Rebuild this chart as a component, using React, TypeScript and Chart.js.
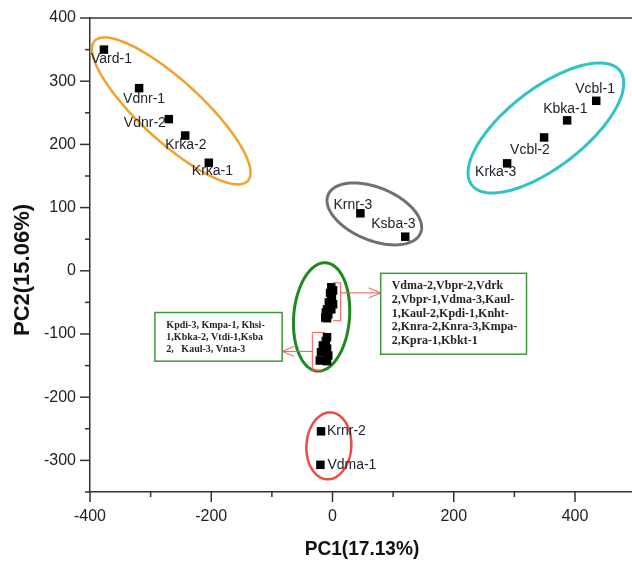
import React, { useEffect, useRef } from 'react';
import { Chart, registerables } from 'chart.js';

Chart.register(...registerables);

// ---------- data ----------
const orangeNames = ['Vard-1', 'Vdnr-1', 'Vdnr-2', 'Krka-2', 'Krka-1'];
const orangeX = [-377, -319, -270, -243, -204];
const orangeY = [350, 289, 240, 214, 171];

const cyanNames = ['Vcbl-1', 'Kbka-1', 'Vcbl-2', 'Krka-3'];
const cyanX = [435, 387, 349, 288];
const cyanY = [269, 238, 211, 170];

const grayNames = ['Krnr-3', 'Ksba-3'];
const grayX = [46, 120];
const grayY = [91, 54];

const redNames = ['Krnr-2', 'Vdma-1'];
const redX = [-19, -20];
const redY = [-254, -307];

const upperNames = ['Vdma-2', 'Vbpr-2', 'Vdrk-2', 'Vbpr-1', 'Vdma-3', 'Kaul-1', 'Kaul-2', 'Kpdi-1', 'Knht-2', 'Knra-2', 'Knra-3', 'Kmpa-2', 'Kpra-1', 'Kbkt-1'];
const upperX = [-2, 1, -4, -1, -2, -6, 1, -4, -9, -2, -11, -7, -12, -9];
const upperY = [-26, -31, -35, -40, -45, -50, -53, -56, -61, -61, -66, -69, -74, -75];

const lowerNames = ['Kpdi-3', 'Kmpa-1', 'Khsi-1', 'Kbka-2', 'Vtdi-1', 'Ksba-2', 'Kaul-3', 'Vnta-3'];
const lowerX = [-9, -11, -16, -9, -19, -7, -21, -9];
const lowerY = [-105, -111, -118, -123, -129, -134, -142, -143];

const rightBoxLines = ['Vdma-2,Vbpr-2,Vdrk', '2,Vbpr-1,Vdma-3,Kaul-', '1,Kaul-2,Kpdi-1,Knht-', '2,Knra-2,Knra-3,Kmpa-', '2,Kpra-1,Kbkt-1'];
const leftBoxLines = ['Kpdi-3, Kmpa-1, Khsi-', '1,Kbka-2, Vtdi-1,Ksba', '2,   Kaul-3, Vnta-3'];

const xTickValues = [-400, -300, -200, -100, 0, 100, 200, 300, 400];
const xTickLabels = [-400, -200, 0, 200, 400];
const yTickValues = [-350, -300, -250, -200, -150, -100, -50, 0, 50, 100, 150, 200, 250, 300, 350, 400];
const yTickLabels = [-300, -200, -100, 0, 100, 200, 300, 400];

const xTitle = 'PC1(17.13%)';
const yTitle = 'PC2(15.06%)';

// ---------- layout / style (not data) ----------
const X_MIN = -400;
const X_MAX = 494;
const Y_MIN = -350;
const Y_MAX = 400;

// label offsets in pixels: [dx to text left, dy to text middle]
const orangeOff = [[-13, 10], [-16, 11], [-45, 4], [-20, 10], [-17, 8]];
const cyanOff = [[-21, -12], [-24, -11], [-34, 13], [-32, 9]];
const grayOff = [[-27, -8], [-34, -13]];
const redOff = [[6, 0], [7, 0]];

// ellipses in data units
const ellipses = [
  { cx: -266, cy: 253, a: 168, b: 49, angle: -41, color: '#f5a02a', width: 2.5 },
  { cx: 352, cy: 226, a: 152, b: 63, angle: 36, color: '#2ec3c6', width: 3 },
  { cx: 69, cy: 90, a: 82, b: 42, angle: -21, color: '#707070', width: 3 },
  { cx: -6, cy: -277, a: 53, b: 37, angle: 86, color: '#ee4a44', width: 2.5 },
  { cx: -18, cy: -73, a: 86, b: 46, angle: 85, color: '#1d8a1d', width: 3 },
];

// annotation boxes in data units
const rightBox = { x0: 79.5, x1: 320, y0: -4, y1: -132 };
const leftBox = { x0: -293, x1: -83, y0: -66, y1: -143 };
// brackets / arrows in data units
const upperBracket = { x: 13.5, xIn: 0.8, yTop: -19, yBot: -79, yArrow: -35, xTip: 79.5 };
const lowerBracket = { x: -33.3, xInTop: -12.4, xInBot: -17.3, yTop: -97.5, yBot: -157.6, yArrow: -127.5, xTip: -83 };

function mk(names: string[], xs: number[], ys: number[]) {
  return names.map((n, i) => ({ x: xs[i], y: ys[i], name: n }));
}

const groups = [
  { data: mk(orangeNames, orangeX, orangeY), off: orangeOff },
  { data: mk(cyanNames, cyanX, cyanY), off: cyanOff },
  { data: mk(grayNames, grayX, grayY), off: grayOff },
  { data: mk(redNames, redX, redY), off: redOff },
  { data: mk(upperNames, upperX, upperY), off: null },
  { data: mk(lowerNames, lowerX, lowerY), off: null },
];

const AXIS = '#333333';
const RED = '#f0564e';
const GREEN_BOX = '#3a9a3a';

const overlayPlugin = {
  id: 'overlay',
  beforeDatasetsDraw(chart: any) {
    const { ctx } = chart;
    const xs = chart.scales.x;
    const ys = chart.scales.y;
    ellipses.forEach((e) => {
      ctx.save();
      ctx.beginPath();
      const th = (e.angle * Math.PI) / 180;
      const N = 160;
      for (let i = 0; i <= N; i++) {
        const t = (i / N) * Math.PI * 2;
        const dx = e.a * Math.cos(t) * Math.cos(th) - e.b * Math.sin(t) * Math.sin(th);
        const dy = e.a * Math.cos(t) * Math.sin(th) + e.b * Math.sin(t) * Math.cos(th);
        const px = xs.getPixelForValue(e.cx + dx);
        const py = ys.getPixelForValue(e.cy + dy);
        if (i === 0) ctx.moveTo(px, py);
        else ctx.lineTo(px, py);
      }
      ctx.closePath();
      ctx.strokeStyle = e.color;
      ctx.lineWidth = e.width;
      ctx.stroke();
      ctx.restore();
    });
    ctx.save();
    ctx.font = '14px "Liberation Sans", Arial, sans-serif';
    ctx.fillStyle = '#222230';
    ctx.textAlign = 'left';
    ctx.textBaseline = 'middle';
    groups.forEach((g) => {
      if (!g.off) return;
      g.data.forEach((p, i) => {
        const px = xs.getPixelForValue(p.x);
        const py = ys.getPixelForValue(p.y);
        ctx.fillText(p.name, px + g.off![i][0], py + g.off![i][1]);
      });
    });
    ctx.restore();
  },
  afterDraw(chart: any) {
    const { ctx, chartArea } = chart;
    const xs = chart.scales.x;
    const ys = chart.scales.y;
    ctx.save();
    ctx.strokeStyle = AXIS;
    ctx.lineWidth = 1.5;
    ctx.beginPath();
    ctx.moveTo(chartArea.left, chartArea.top);
    ctx.lineTo(chartArea.right, chartArea.top);
    ctx.stroke();
    xTickValues.forEach((v) => {
      const px = xs.getPixelForValue(v);
      const len = xTickLabels.includes(v) ? 10 : 5;
      ctx.beginPath();
      ctx.moveTo(px, chartArea.bottom);
      ctx.lineTo(px, chartArea.bottom + len);
      ctx.stroke();
    });
    yTickValues.forEach((v) => {
      const py = ys.getPixelForValue(v);
      const len = yTickLabels.includes(v) ? 10 : 5;
      ctx.beginPath();
      ctx.moveTo(chartArea.left, py);
      ctx.lineTo(chartArea.left - len, py);
      ctx.stroke();
    });
    ctx.fillStyle = '#111111';
    ctx.textAlign = 'center';
    ctx.textBaseline = 'middle';
    ctx.save();
    ctx.translate(362, 549);
    ctx.scale(0.91, 1);
    ctx.font = 'bold 21px "Liberation Sans", Arial, sans-serif';
    ctx.fillText(xTitle, 0, 0);
    ctx.restore();
    ctx.save();
    ctx.translate(23, 270);
    ctx.rotate(-Math.PI / 2);
    ctx.font = 'bold 22px "Liberation Sans", Arial, sans-serif';
    ctx.fillText(yTitle, 0, 0);
    ctx.restore();

    ctx.strokeStyle = RED;
    ctx.lineWidth = 1;
    const drawArrowHead = (tipX: number, tipY: number, dir: number) => {
      ctx.beginPath();
      ctx.moveTo(tipX - dir * 12, tipY - 5);
      ctx.lineTo(tipX, tipY);
      ctx.lineTo(tipX - dir * 12, tipY + 5);
      ctx.stroke();
    };
    {
      const b = upperBracket;
      const bx = xs.getPixelForValue(b.x);
      const bin = xs.getPixelForValue(b.xIn);
      const yt = ys.getPixelForValue(b.yTop);
      const yb = ys.getPixelForValue(b.yBot);
      const ya = ys.getPixelForValue(b.yArrow);
      const tip = xs.getPixelForValue(b.xTip);
      ctx.beginPath();
      ctx.moveTo(bin, yt);
      ctx.lineTo(bx, yt);
      ctx.lineTo(bx, yb);
      ctx.lineTo(bin, yb);
      ctx.moveTo(bx, ya);
      ctx.lineTo(tip, ya);
      ctx.stroke();
      drawArrowHead(tip, ya, 1);
    }
    {
      const b = lowerBracket;
      const bx = xs.getPixelForValue(b.x);
      const xt = xs.getPixelForValue(b.xInTop);
      const xb = xs.getPixelForValue(b.xInBot);
      const yt = ys.getPixelForValue(b.yTop);
      const yb = ys.getPixelForValue(b.yBot);
      const ya = ys.getPixelForValue(b.yArrow);
      const tip = xs.getPixelForValue(b.xTip);
      ctx.beginPath();
      ctx.moveTo(xt, yt);
      ctx.lineTo(bx, yt);
      ctx.lineTo(bx, yb);
      ctx.lineTo(xb, yb);
      ctx.moveTo(bx, ya);
      ctx.lineTo(tip, ya);
      ctx.stroke();
      drawArrowHead(tip, ya, -1);
    }

    const drawBox = (bx: any, lines: string[], font: string, padX: number, firstY: number, lh: number) => {
      const x0 = xs.getPixelForValue(bx.x0);
      const x1 = xs.getPixelForValue(bx.x1);
      const y0 = ys.getPixelForValue(bx.y0);
      const y1 = ys.getPixelForValue(bx.y1);
      ctx.fillStyle = '#ffffff';
      ctx.fillRect(x0, y0, x1 - x0, y1 - y0);
      ctx.strokeStyle = GREEN_BOX;
      ctx.lineWidth = 1.5;
      ctx.strokeRect(x0, y0, x1 - x0, y1 - y0);
      ctx.fillStyle = '#2a2420';
      ctx.font = font;
      ctx.textAlign = 'left';
      ctx.textBaseline = 'middle';
      lines.forEach((l, i) => ctx.fillText(l, x0 + padX, y0 + firstY + i * lh));
    };
    drawBox(rightBox, rightBoxLines, 'bold 12px "Liberation Serif", "Times New Roman", serif', 11, 12.5, 13.8);
    drawBox(leftBox, leftBoxLines, 'bold 10px "Liberation Serif", "Times New Roman", serif', 11.5, 12.5, 12);
    ctx.restore();
  },
};

export default function App() {
  const ref = useRef<HTMLCanvasElement | null>(null);
  useEffect(() => {
    if (!ref.current) return;
    const chart = new Chart(ref.current, {
      type: 'scatter',
      data: {
        datasets: groups.map((g) => ({
          data: g.data,
          backgroundColor: '#000000',
          borderWidth: 0,
          pointStyle: 'rect',
          pointRadius: 6,
          pointHoverRadius: 6,
        })),
      },
      options: {
        responsive: false,
        animation: false,
        layout: { autoPadding: false, padding: { top: 18, right: 0, left: 0, bottom: 0 } },
        plugins: { legend: { display: false }, tooltip: { enabled: false } },
        scales: {
          x: {
            type: 'linear',
            min: X_MIN,
            max: X_MAX,
            grid: { display: false, drawTicks: false },
            border: { display: true, color: AXIS, width: 1.5 },
            afterBuildTicks: (s: any) => {
              s.ticks = xTickLabels.map((v) => ({ value: v }));
            },
            ticks: {
              autoSkip: false,
              maxRotation: 0,
              padding: 15,
              color: '#222222',
              font: { family: '"Liberation Sans", Arial, sans-serif', size: 16 },
              callback: (v: any) => String(v),
            },
            afterFit: (s: any) => {
              s.height = 73;
              s.paddingLeft = 0;
              s.paddingRight = 0;
            },
          },
          y: {
            type: 'linear',
            min: Y_MIN,
            max: Y_MAX,
            grid: { display: false, drawTicks: false },
            border: { display: true, color: AXIS, width: 1.5 },
            afterBuildTicks: (s: any) => {
              s.ticks = yTickLabels.map((v) => ({ value: v }));
            },
            ticks: {
              autoSkip: false,
              padding: 14,
              color: '#222222',
              font: { family: '"Liberation Sans", Arial, sans-serif', size: 16 },
              callback: (v: any) => String(v),
            },
            afterFit: (s: any) => {
              s.width = 90;
              s.paddingTop = 0;
              s.paddingBottom = 0;
            },
          },
        },
      },
      plugins: [overlayPlugin],
    });
    return () => chart.destroy();
  }, []);
  return (
    <div style={{ position: 'absolute', left: 0, top: 0, width: 632, height: 565, background: '#fff' }}>
      <canvas ref={ref} width={632} height={565} style={{ display: 'block' }} />
    </div>
  );
}
